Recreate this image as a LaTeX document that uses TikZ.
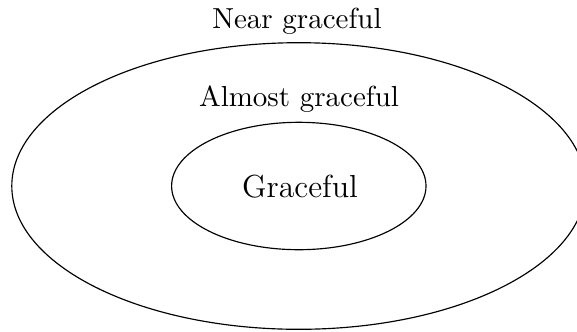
\documentclass[tikz,border=0pt]{standalone}
\begin{document}
\begin{tikzpicture}[x=0.345pt,y=-0.345pt,
  ring/.style={draw=black,line width=0.4pt},
  lbl/.style={anchor=base,inner sep=0pt,font=\fontsize{10}{12}\selectfont},
  biglbl/.style={anchor=base,inner sep=0pt,font=\fontsize{11}{13}\selectfont}]
\useasboundingbox (0,0) rectangle (577,331);
\begin{scope}
\clip (0,0) rectangle (577,331);
\draw[ring] (298.8,186) ellipse [x radius=287, y radius=143.3];
\end{scope}
\draw[ring] (298.8,186) ellipse [x radius=127.2, y radius=63.7];
\node[lbl] (near) at (297,28) {Near graceful};
\node[lbl] (almost) at (299,106.5) {Almost graceful};
\node[biglbl] (grace) at (300,197) {Graceful};
\end{tikzpicture}
\end{document}
